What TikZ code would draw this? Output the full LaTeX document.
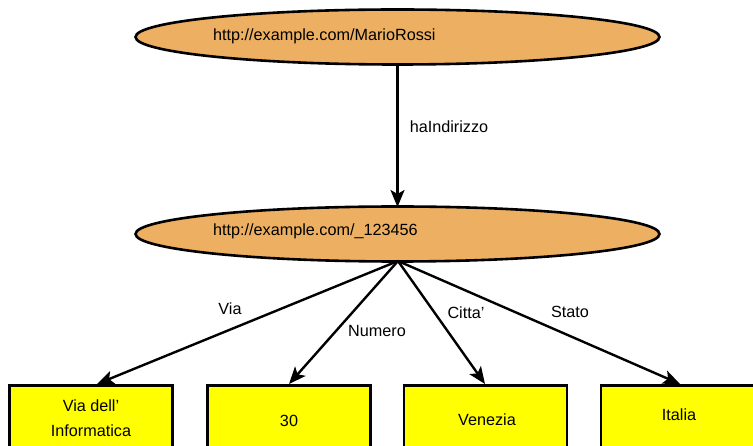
\documentclass[tikz,border=0pt]{standalone}
\usepackage{fontspec}
\setmainfont{Liberation Sans}
\usetikzlibrary{shapes.geometric,arrows.meta}
\definecolor{resorange}{RGB}{237,176,98}
\definecolor{lityellow}{RGB}{255,255,0}
\tikzset{
  resource/.style={ellipse,draw=black,line width=2.6pt,fill=resorange,minimum width=524pt,minimum height=55pt,inner sep=0pt},
  literal/.style={rectangle,draw=black,line width=2.6pt,fill=lityellow,minimum width=163pt,minimum height=110pt,anchor=north,inner sep=0pt},
  txt/.style={font=\fontsize{16.2}{25}\selectfont,inner sep=0pt,align=center},
  edge/.style={line width=2.4pt,-{Stealth[length=17pt,width=14pt,inset=4pt]}},
}
\begin{document}
\begin{tikzpicture}[x=1pt,y=-1pt]
\useasboundingbox (0,0) rectangle (753,446);
\node[resource] (mario) at (397.5,37) {};
\node[txt,anchor=west] (mariot) at (213,36) {http://example.com/MarioRossi};
\node[resource] (addr) at (397.5,234) {};
\node[txt,anchor=west] (addrt) at (213,231) {http://example.com/\_123456};
\node[literal] (b1) at (91,384.5) {};
\node[literal] (b2) at (289,384.5) {};
\node[literal] (b3) at (485.5,384.5) {};
\node[literal] (b4) at (682.5,384.5) {};
\node[txt] (b1t1) at (91,406) {Via dell'};
\node[txt] (b1t2) at (91,431) {Informatica};
\node[txt] (b2t) at (289,421) {30};
\node[txt] (b3t) at (487,420) {Venezia};
\node[txt] (b4t) at (679,415) {Italia};
\coordinate (src) at (398,261);
\coordinate (t0) at (397.5,207);
\coordinate (t1) at (97,384);
\coordinate (t2) at (289,384);
\coordinate (t3) at (485,384);
\coordinate (t4) at (680,384);
\draw[edge] (mario.south) -- (t0);
\draw[edge] (src) -- (t1);
\draw[edge] (src) -- (t2);
\draw[edge] (src) -- (t3);
\draw[edge] (src) -- (t4);
\node[txt] (l0) at (449,127) {haIndirizzo};
\node[txt] (l1) at (230,309) {Via};
\node[txt] (l2) at (377,331) {Numero};
\node[txt] (l3) at (466,313) {Citta'};
\node[txt] (l4) at (570,312) {Stato};
\end{tikzpicture}
\end{document}
